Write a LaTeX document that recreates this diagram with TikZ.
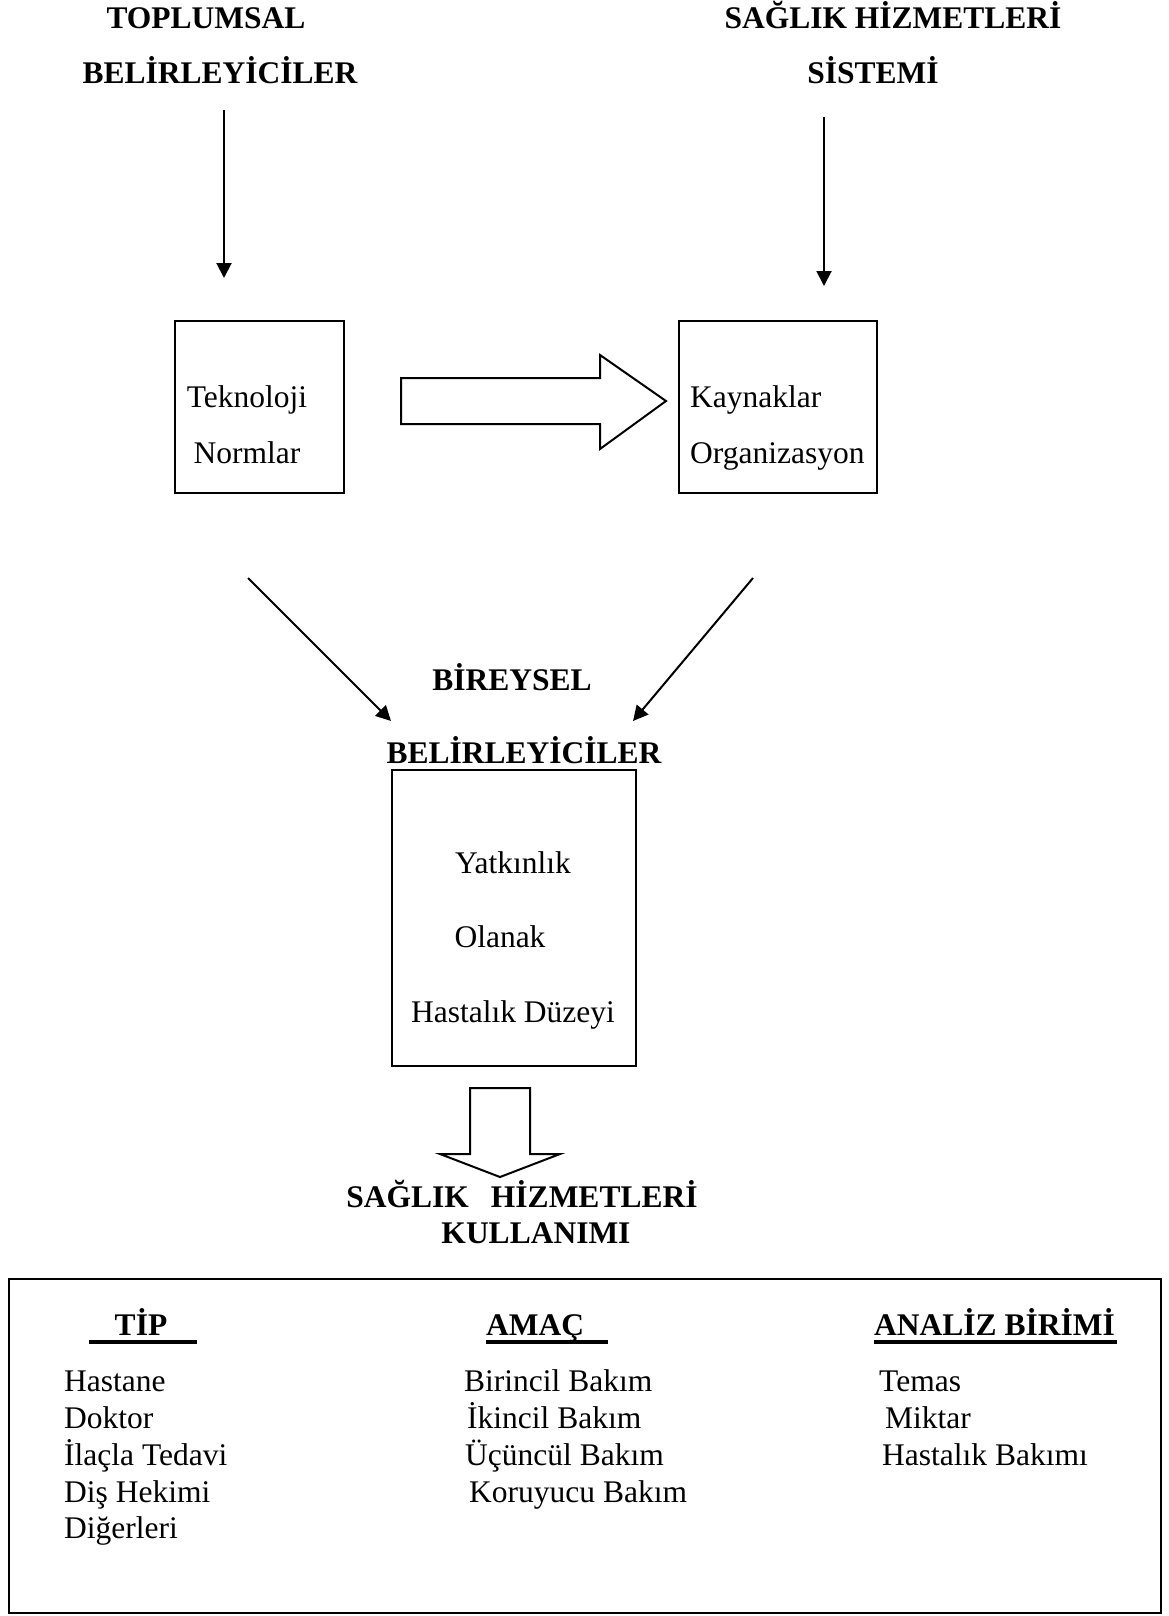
\documentclass[tikz,border=0pt]{standalone}
\usepackage{fontspec}
\setmainfont{Liberation Serif}
\usetikzlibrary{arrows.meta}
\begin{document}
\begin{tikzpicture}[x=1pt,y=-1pt,
  txt/.style={inner sep=0pt, anchor=base, font=\fontsize{31.5}{38}\selectfont},
  hd/.style={txt, font=\fontsize{31.5}{38}\selectfont\bfseries},
  item/.style={txt, anchor=base west},
  box/.style={draw, line width=2.8pt, inner sep=0pt},
  arr/.style={line width=2pt, -{Triangle[length=15pt,width=15pt]}},
  blk/.style={draw, line width=2pt, line join=miter},
  uline/.style={line width=3.3pt}]
\useasboundingbox (0,0) rectangle (1168,1616);

% upper headings
\node[hd] (tl1) at (206,29) {TOPLUMSAL};
\node[hd] (tl2) at (220,84) {BELİRLEYİCİLER};
\node[hd] (tr1) at (893,29) {SAĞLIK HİZMETLERİ};
\node[hd] (tr2) at (873,84) {SİSTEMİ};

% the two upper boxes
\node[box, minimum width=169pt, minimum height=172pt] (bl) at (259.5,407) {};
\node[box, minimum width=198pt, minimum height=172pt] (br) at (778,407) {};
\node[txt] (tek) at (247,407) {Teknoloji};
\node[txt] (nor) at (247,463) {Normlar};
\node[item] (kay) at (690,407) {Kaynaklar};
\node[item] (org) at (690,463) {Organizasyon};

% vertical arrows from headings to boxes
\coordinate (la0) at (224,110);
\coordinate (la1) at (224,278);
\coordinate (ra0) at (824,117);
\coordinate (ra1) at (824,286);
\draw[arr] (la0) -- (la1);
\draw[arr] (ra0) -- (ra1);

% block arrow between the boxes
\draw[blk] (401,378) -- (600,378) -- (600,355) -- (666,401) -- (600,449)
  -- (600,424) -- (401,424) -- cycle;

% diagonal arrows to the individual level
\coordinate (dl0) at (248,578);
\coordinate (dl1) at (391,721);
\coordinate (dr0) at (753,578);
\coordinate (dr1) at (633,721);
\draw[arr] (dl0) -- (dl1);
\draw[arr] (dr0) -- (dr1);

\node[hd] (bir) at (512,690) {BİREYSEL};
\node[hd] (bel) at (524,763) {BELİRLEYİCİLER};

% middle box
\node[box, minimum width=244pt, minimum height=296pt] (bm) at (514,918) {};
\node[txt] (yat) at (513,873) {Yatkınlık};
\node[txt] (ola) at (500,947) {Olanak};
\node[txt] (has) at (513,1022) {Hastalık Düzeyi};

% downward block arrow
\draw[blk] (470,1088) -- (530,1088) -- (530,1154) -- (560,1154) -- (500,1177)
  -- (440,1154) -- (470,1154) -- cycle;

\node[hd] (sh) at (522,1207) {SAĞLIK\hspace{22pt}HİZMETLERİ};
\node[hd] (ku) at (536,1243) {KULLANIMI};

% bottom box
\node[draw, line width=2.2pt, minimum width=1152pt, minimum height=334pt, inner sep=0pt] (bb) at (585,1446) {};

\node[hd] (tip) at (141,1335) {TİP};
\node[hd, anchor=base west] (ama) at (486,1335) {AMAÇ};
\node[hd, anchor=base west] (ana) at (874,1335) {ANALİZ BİRİMİ};
\draw[uline] (89,1342) -- (197,1342);
\draw[uline] (486,1342) -- (608,1342);
\draw[uline] (874,1342) -- (1117,1342);

\node[item] (c1a) at (64,1391) {Hastane};
\node[item] (c1b) at (64,1428) {Doktor};
\node[item] (c1c) at (64,1465) {İlaçla Tedavi};
\node[item] (c1d) at (64,1502) {Diş Hekimi};
\node[item] (c1e) at (64,1538) {Diğerleri};

\node[item] (c2a) at (464,1391) {Birincil Bakım};
\node[item] (c2b) at (467,1428) {İkincil Bakım};
\node[item] (c2c) at (465,1465) {Üçüncül Bakım};
\node[item] (c2d) at (469,1502) {Koruyucu Bakım};

\node[item] (c3a) at (879,1391) {Temas};
\node[item] (c3b) at (885,1428) {Miktar};
\node[item] (c3c) at (882,1465) {Hastalık Bakımı};
\end{tikzpicture}
\end{document}
